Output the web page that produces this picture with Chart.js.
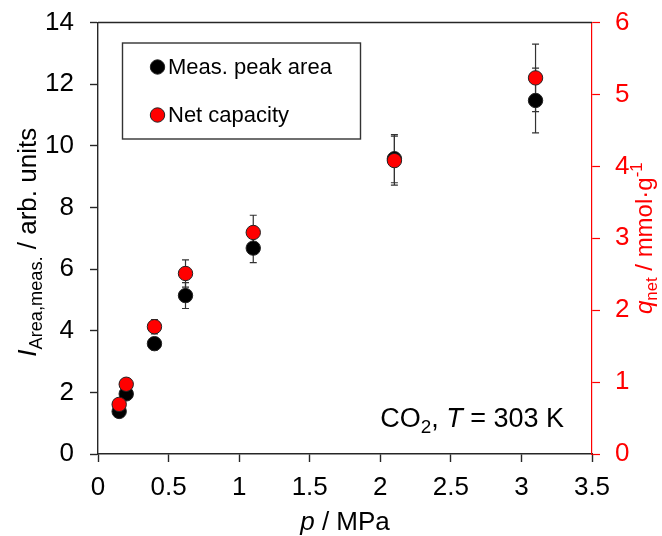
<!DOCTYPE html>
<html><head><meta charset="utf-8">
<script src="https://cdn.jsdelivr.net/npm/chart.js@4.4.1/dist/chart.umd.min.js"></script>
<style>html,body{margin:0;padding:0;background:#fff;}#wrap{width:662px;height:536px;position:relative;}</style>
</head><body><div id="wrap"><canvas id="c" width="662" height="536"></canvas></div>
<script>
// ---- data ----
const pressure = [0.15, 0.2, 0.4, 0.62, 1.1, 2.1, 3.1];
const peakArea = [1.38, 1.95, 3.58, 5.14, 6.68, 9.58, 11.47];
const peakAreaErr = [0.1, 0.1, 0.2, 0.42, 0.47, 0.78, 1.05];
const netCapacity = [0.69, 0.97, 1.77, 2.51, 3.08, 4.08, 5.23];
const netCapacityErr = [0.05, 0.05, 0.1, 0.19, 0.24, 0.34, 0.47];
const legendLabels = ['Meas. peak area', 'Net capacity'];
const xRange = [0, 3.5, 0.5];
const yLeftRange = [0, 14, 2];
const yRightRange = [0, 6, 1];

const FONT = '"Liberation Sans", Arial, Helvetica, sans-serif';
const AXIS = '#262626';
const RED = '#ff0000';

function partFont(p, size) {
  const s = p.s ? size * 0.7 : size;
  return (p.i ? 'italic ' : '') + s + 'px ' + FONT;
}
function drawRich(ctx, parts, x, y, size, align, color) {
  ctx.save();
  ctx.fillStyle = color;
  ctx.textBaseline = 'alphabetic';
  ctx.textAlign = 'left';
  let total = 0;
  const widths = parts.map(p => { ctx.font = partFont(p, size); const w = ctx.measureText(p.t).width; total += w; return w; });
  let cx = align === 'center' ? x - total / 2 : align === 'right' ? x - total : x;
  parts.forEach((p, k) => {
    ctx.font = partFont(p, size);
    const dy = p.s === 'sub' ? size * 0.22 : p.s === 'sup' ? -size * 0.4 : 0;
    ctx.fillText(p.t, cx, y + dy);
    cx += widths[k];
  });
  ctx.restore();
}

const errorBars = {
  id: 'errorBars',
  beforeDatasetsDraw(chart) {
    const ctx = chart.ctx, x = chart.scales.x;
    const sets = [[chart.scales.y, peakArea, peakAreaErr], [chart.scales.y1, netCapacity, netCapacityErr]];
    ctx.save();
    ctx.strokeStyle = '#333';
    ctx.lineWidth = 1.2;
    sets.forEach(([sc, vals, errs]) => {
      vals.forEach((v, k) => {
        const px = x.getPixelForValue(pressure[k]);
        const top = sc.getPixelForValue(v + errs[k]);
        const bot = sc.getPixelForValue(v - errs[k]);
        ctx.beginPath();
        ctx.moveTo(px, top); ctx.lineTo(px, bot);
        ctx.moveTo(px - 3.5, top); ctx.lineTo(px + 3.5, top);
        ctx.moveTo(px - 3.5, bot); ctx.lineTo(px + 3.5, bot);
        ctx.stroke();
      });
    });
    ctx.restore();
  }
};

const decorations = {
  id: 'decorations',
  afterDraw(chart) {
    const ctx = chart.ctx, a = chart.chartArea;
    ctx.save();
    ctx.strokeStyle = AXIS; ctx.lineWidth = 1.4;
    ctx.beginPath(); ctx.moveTo(a.left, a.top); ctx.lineTo(a.right, a.top); ctx.stroke();
    ctx.strokeStyle = '#333'; ctx.lineWidth = 1.4;
    ctx.strokeRect(122.5, 43, 238, 96);
    const mk = [['#000', 67], [RED, 115]];
    mk.forEach(([c, y]) => {
      ctx.beginPath(); ctx.arc(157.5, y, 7.2, 0, Math.PI * 2);
      ctx.fillStyle = c; ctx.fill(); ctx.strokeStyle = '#222'; ctx.lineWidth = 1; ctx.stroke();
    });
    ctx.restore();
    drawRich(ctx, [{t: legendLabels[0]}], 168, 74, 22, 'left', '#000');
    drawRich(ctx, [{t: legendLabels[1]}], 168, 122, 22, 'left', '#000');
    drawRich(ctx, [{t: 'CO'}, {t: '2', s: 'sub'}, {t: ', '}, {t: 'T', i: true}, {t: ' = 303 K'}], 564, 427, 27, 'right', '#000');
    drawRich(ctx, [{t: 'p', i: true}, {t: ' / MPa'}], (a.left + a.right) / 2, 530, 26, 'center', '#000');
    ctx.save();
    ctx.translate(36, (a.top + a.bottom) / 2 + 4);
    ctx.rotate(-Math.PI / 2);
    drawRich(ctx, [{t: 'I', i: true}, {t: 'Area,meas.', s: 'sub'}, {t: ' / arb. units'}], 0, 0, 26, 'center', '#000');
    ctx.restore();
    ctx.save();
    ctx.translate(652, (a.top + a.bottom) / 2);
    ctx.rotate(-Math.PI / 2);
    drawRich(ctx, [{t: 'q', i: true}, {t: 'net', s: 'sub'}, {t: ' / mmol\u00b7g'}, {t: '-1', s: 'sup'}], 0, 0, 24, 'center', RED);
    ctx.restore();
  }
};

const tickFont = {family: FONT, size: 26};
const fmt = v => String(Number(v.toFixed(2)));

new Chart(document.getElementById('c'), {
  type: 'scatter',
  data: {
    datasets: [
      {label: legendLabels[1], data: pressure.map((p, k) => ({x: p, y: netCapacity[k]})), yAxisID: 'y1', order: 0,
       backgroundColor: RED, borderColor: '#222', borderWidth: 1, pointRadius: 7.2, pointHoverRadius: 7.2},
      {label: legendLabels[0], data: pressure.map((p, k) => ({x: p, y: peakArea[k]})), yAxisID: 'y', order: 1,
       backgroundColor: '#000', borderColor: '#222', borderWidth: 1, pointRadius: 7.2, pointHoverRadius: 7.2}
    ]
  },
  options: {
    responsive: false, devicePixelRatio: 1, animation: false,
    layout: {padding: 0},
    plugins: {legend: {display: false}, tooltip: {enabled: false}},
    scales: {
      x: {
        type: 'linear', min: xRange[0], max: xRange[1],
        ticks: {stepSize: xRange[2], color: '#000', font: tickFont, padding: 10, maxRotation: 0, callback: fmt},
        grid: {display: true, drawOnChartArea: false, drawTicks: true, tickLength: 8, tickColor: AXIS, tickWidth: 1.4},
        border: {color: AXIS, width: 1.4},
        afterFit: s => { s.height = 82; s.paddingLeft = 0; s.paddingRight = 0; }
      },
      y: {
        position: 'left', min: yLeftRange[0], max: yLeftRange[1],
        ticks: {stepSize: yLeftRange[2], color: '#000', font: tickFont, padding: 16, callback: fmt},
        grid: {display: true, drawOnChartArea: false, drawTicks: true, tickLength: 8, tickColor: AXIS, tickWidth: 1.4},
        border: {color: AXIS, width: 1.4},
        afterFit: s => { s.width = 98; s.paddingTop = 22.5; s.paddingBottom = 0; }
      },
      y1: {
        position: 'right', min: yRightRange[0], max: yRightRange[1],
        ticks: {stepSize: yRightRange[2], color: RED, font: tickFont, padding: 15, callback: fmt},
        grid: {display: true, drawOnChartArea: false, drawTicks: true, tickLength: 8, tickColor: RED, tickWidth: 1.2},
        border: {color: RED, width: 1.2},
        afterFit: s => { s.width = 70; s.paddingTop = 22.5; s.paddingBottom = 0; }
      }
    }
  },
  plugins: [errorBars, decorations]
});
</script></body></html>
